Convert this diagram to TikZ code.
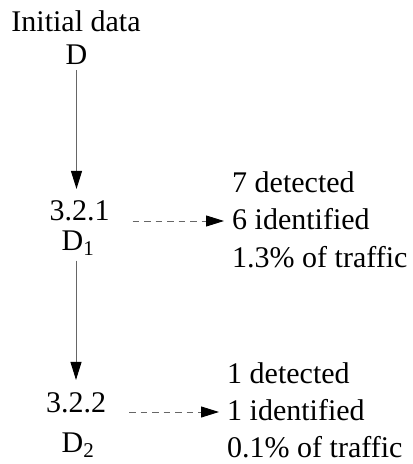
\documentclass[tikz,border=0pt]{standalone}
\usepackage{fontspec}
\setmainfont{Liberation Serif}
\usetikzlibrary{arrows.meta}

\begin{document}
\begin{tikzpicture}[
        % Pixel-like units, y pointing down
        x=1bp, y=-1bp,
        % Define styles for the labels and arrows
        base_text/.style={font=\fontsize{30bp}{37bp}\selectfont, inner sep=5bp},
        step_label/.style={base_text, anchor=base},
        result_node/.style={base_text, anchor=base west, align=left, inner xsep=8bp, inner ysep=1bp},
        flow/.style={-{Triangle[length=18bp, width=11bp, color=black]}, draw=black!60, line width=1bp, shorten >=7bp},
        result_arrow/.style={flow, dash pattern=on 6.5bp off 5bp, shorten >=0pt, shorten <=18bp}
    ]
    \useasboundingbox (0,0) rectangle (412,464);

    % Initial data set
    \node (init) [step_label] at (76,32) {Initial data};
    \node (d0) [step_label] at (76.5,65) {D};

    % First step and its data set
    \node (s1) [step_label] at (79.5,221) {3.2.1};
    \node (d1) [step_label] at (78,250) {D\textsubscript{1}};
    \draw [flow] (d0.south) -- (d0.south |- s1.north);

    % Results of the first step (base = last line)
    \node (res1) [result_node] at (224,267) {7 detected \\ 6 identified \\ 1.3\% of traffic};
    \draw [result_arrow] (s1.base east) -- (s1.base east -| res1.west);

    % Second step and its data set
    \node (s2) [step_label] at (76,412) {3.2.2};
    \node (d2) [step_label] at (78,452) {D\textsubscript{2}};
    \draw [flow] (s2.north |- d1.south) -- (s2.north);

    % Results of the second step
    \node (res2) [result_node] at (219,457) {1 detected \\ 1 identified \\ 0.1\% of traffic};
    \draw [result_arrow] (s2.base east) -- (s2.base east -| res2.west);

\end{tikzpicture}
\end{document}
